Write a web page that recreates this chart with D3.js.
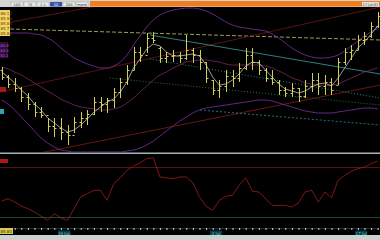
<!DOCTYPE html>
<html>
<head>
<meta charset="utf-8">
<script src="https://cdn.jsdelivr.net/npm/d3@7"></script>
<style>
  body { margin: 0; background: #000; }
  svg { display: block; }
  text { font-family: "DejaVu Sans", sans-serif; }
</style>
</head>
<body>
<svg id="chart" width="380" height="240"></svg>
<script>
// price bars, one per session
let opens  = [83.10,82.75,82.40,82.20,81.75,81.40,81.00,80.85,80.30,80.20,80.00,79.85,80.50,80.70,80.90,81.50,81.40,81.60,82.00,82.50,83.10,84.00,83.85,84.70,84.20,83.70,83.80,83.85,83.70,84.10,83.85,83.50,82.60,82.10,82.30,82.80,82.70,83.20,83.85,83.50,83.10,82.70,82.50,82.10,81.95,82.20,81.80,82.30,82.60,82.30,82.50,82.35,83.50,84.00,84.10,84.60,84.80,85.30]
let highs  = [83.25,82.85,82.70,82.25,81.95,81.50,81.25,80.70,80.70,80.70,80.35,80.75,81.00,81.10,81.75,81.75,81.70,82.20,82.70,83.35,84.25,84.25,84.95,85.00,84.25,84.00,84.10,84.00,84.85,84.20,84.10,83.50,82.60,82.60,83.10,83.10,83.45,84.20,84.20,83.60,83.20,83.10,82.60,82.25,82.45,82.20,82.60,82.95,82.95,82.85,82.70,83.70,84.20,84.35,84.85,85.00,85.50,86.00]
let lows   = [82.60,82.20,82.00,81.50,81.10,80.75,80.70,80.00,79.75,79.60,79.35,79.95,80.20,80.35,80.85,81.00,80.95,81.20,81.70,82.35,83.10,83.50,83.95,84.45,83.45,83.45,83.50,83.45,83.60,83.45,83.10,82.45,81.85,81.70,82.00,82.25,82.50,83.10,83.10,82.85,82.50,82.35,81.85,81.75,81.75,81.50,81.70,82.00,81.85,81.85,81.85,82.35,83.35,83.60,84.10,84.35,84.70,85.20]
let closes = [82.75,82.40,82.20,81.75,81.40,81.00,80.85,80.30,80.20,80.00,79.85,80.50,80.70,80.90,81.50,81.40,81.60,82.00,82.50,83.10,84.00,83.85,84.70,84.60,83.70,83.80,83.85,83.70,84.10,83.85,83.50,82.70,82.10,82.30,82.80,82.70,83.20,83.85,83.50,83.10,82.70,82.50,82.10,81.95,82.20,81.80,82.30,82.60,82.30,82.50,82.10,83.50,84.00,84.10,84.60,84.80,85.30,85.80]

// short moving average (white line)
let fastAvg = [83.00,82.75,82.45,82.10,81.80,81.40,81.10,80.70,80.45,80.20,80.00,80.10,80.35,80.65,81.00,81.25,81.50,81.65,82.00,82.50,83.20,83.65,84.15,84.40,84.30,84.00,83.80,83.80,83.85,83.90,83.80,83.35,82.75,82.35,82.40,82.60,82.90,83.30,83.50,83.45,83.10,82.75,82.40,82.15,82.05,81.95,82.05,82.25,82.40,82.45,82.30,82.70,83.20,83.70,84.20,84.50,84.90,85.30]

// bands
let bandUpper = [84.90,84.95,84.95,84.95,84.95,84.90,84.85,84.70,84.50,84.20,83.95,83.70,83.55,83.40,83.30,83.20,83.20,83.30,83.50,83.85,84.35,84.80,85.25,85.60,85.85,86.00,86.10,86.15,86.20,86.20,86.15,86.05,85.90,85.70,85.50,85.35,85.25,85.20,85.15,85.10,85.05,84.90,84.70,84.45,84.20,84.00,83.85,83.75,83.70,83.70,83.75,83.85,84.05,84.30,84.55,84.80,85.00,85.20]
let bandMiddle = [83.25,83.15,83.00,82.85,82.65,82.45,82.25,82.05,81.85,81.65,81.50,81.35,81.25,81.20,81.15,81.10,81.10,81.15,81.25,81.45,81.70,82.00,82.30,82.60,82.85,83.00,83.20,83.35,83.50,83.55,83.60,83.60,83.55,83.50,83.40,83.35,83.35,83.35,83.35,83.35,83.30,83.20,83.05,82.90,82.70,82.60,82.45,82.40,82.35,82.30,82.35,82.40,82.55,82.70,82.85,83.00,83.10,83.20]
let bandLower = [81.60,81.40,81.10,80.75,80.40,80.05,79.70,79.45,79.25,79.10,79.05,79.00,79.00,79.00,79.00,79.00,79.00,79.00,79.00,79.05,79.10,79.20,79.35,79.55,79.80,80.05,80.30,80.55,80.75,80.95,81.10,81.20,81.25,81.30,81.35,81.40,81.45,81.50,81.55,81.60,81.60,81.55,81.45,81.35,81.25,81.15,81.05,81.00,80.95,80.95,80.95,81.00,81.05,81.10,81.15,81.20,81.20,81.15]

// oscillator in lower pane
let oscValues = [39,42,38,33,30,26,21,16,24,19,16,30,44,48,52,52,40,60,67,76,81,85,90,91,68,67,66,68,68,61,44,33,28,40,45,46,58,67,51,50,42,34,34,34,32,37,50,52,38,50,43,64,70,75,78,80,84,87]
let oscLevels = [80, 20]

// drawn trend lines: [bar, price] pairs
let trendLines = [
  { name: 'dashYellow', from: [1.3, 85.15], to: [57.4, 84.60] },
  { name: 'redTop',     from: [-0.2, 85.40], to: [19.5, 86.60] },
  { name: 'redMid',     from: [-0.2, 82.00], to: [57.4, 86.25] },
  { name: 'redLow',     from: [5.8, 78.95], to: [57.4, 82.35] },
  { name: 'cyanSolid',  from: [22.5, 84.85], to: [57.4, 82.90] },
  { name: 'cyanDots',   from: [22.5, 83.65], to: [57.4, 81.70] },
  { name: 'greenDots',  from: [16.4, 82.70], to: [57.4, 81.35] },
  { name: 'cyanDash',   from: [30.1, 81.10], to: [57.4, 80.35] }
]

let priceInfo = ['86.12', '85.96', '85.84', '85.71', '85.80']
let dateLabels = [{ bar: 9.5, text: '19 Jun' }, { bar: 32.5, text: '2 Jul' }, { bar: 54.5, text: '17 Jul' }]
let toolButtons = ['100', '75', '1:1', '50', '200', 'more']

let svg = d3.select('#chart')

let xScale = d3.scaleLinear().domain([0, closes.length - 1]).range([1.5, 377.7])
let yScale = d3.scaleLinear().domain([79.0, 86.3]).range([152, 6])
let oscScale = d3.scaleLinear().domain([20, 80]).range([217, 167])

svg.append('rect').attr('width', 380).attr('height', 240).attr('fill', '#000')

svg.append('clipPath').attr('id', 'priceClip')
    .append('rect').attr('x', 0).attr('y', 7).attr('width', 380).attr('height', 145)

let pricePane = svg.append('g').attr('clip-path', 'url(#priceClip)')

let lineStyles = {
  dashYellow: { stroke: '#c8c070', dash: '4,2' },
  redTop:     { stroke: '#6e1818', dash: null },
  redMid:     { stroke: '#6e1818', dash: null },
  redLow:     { stroke: '#801a1a', dash: null },
  cyanSolid:  { stroke: '#3aa0a0', dash: null },
  cyanDots:   { stroke: '#3a9a9a', dash: '1,2' },
  greenDots:  { stroke: '#3a8a4c', dash: '1,2' },
  cyanDash:   { stroke: '#2f8a9a', dash: '2,2' }
}

pricePane.selectAll('line.trend')
    .data(trendLines)
    .enter()
    .append('line')
    .attr('class', 'trend')
    .attr('x1', (d) => xScale(d.from[0]))
    .attr('y1', (d) => yScale(d.from[1]))
    .attr('x2', (d) => xScale(d.to[0]))
    .attr('y2', (d) => yScale(d.to[1]))
    .attr('stroke', (d) => lineStyles[d.name].stroke)
    .attr('stroke-dasharray', (d) => lineStyles[d.name].dash)
    .attr('stroke-width', 0.8)

let bandLine = (values) => d3.line()
    .x((d, i) => xScale(i))
    .y((d) => yScale(d))
    .curve(d3.curveMonotoneX)(values)

pricePane.append('path').attr('d', bandLine(bandUpper))
    .attr('fill', 'none').attr('stroke', '#6c2c92').attr('stroke-width', 0.9)
pricePane.append('path').attr('d', bandLine(bandMiddle))
    .attr('fill', 'none').attr('stroke', '#7a2a64').attr('stroke-width', 0.8)
pricePane.append('path').attr('d', bandLine(bandLower))
    .attr('fill', 'none').attr('stroke', '#6c2c92').attr('stroke-width', 0.9)

// ohlc bars
let bars = pricePane.selectAll('g.bar')
    .data(closes)
    .enter()
    .append('g')
    .attr('class', 'bar')
    .attr('transform', (d, i) => 'translate(' + (Math.round(xScale(i)) + 0.5) + ',0)')

bars.append('line')
    .attr('y1', (d, i) => yScale(highs[i]))
    .attr('y2', (d, i) => yScale(lows[i]))
    .attr('stroke', '#d2cc58')
bars.append('line')
    .attr('x1', -2).attr('x2', 0)
    .attr('y1', (d, i) => Math.round(yScale(opens[i])) + 0.5)
    .attr('y2', (d, i) => Math.round(yScale(opens[i])) + 0.5)
    .attr('stroke', '#d2cc58')
bars.append('line')
    .attr('x1', 0).attr('x2', 2)
    .attr('y1', (d) => Math.round(yScale(d)) + 0.5)
    .attr('y2', (d) => Math.round(yScale(d)) + 0.5)
    .attr('stroke', '#d2cc58')

pricePane.append('path')
    .attr('d', d3.line().x((d, i) => xScale(i)).y((d) => yScale(d))(fastAvg))
    .attr('fill', 'none').attr('stroke', '#e0e0c8').attr('stroke-width', 0.7)

// left side labels
svg.append('rect').attr('x', 0).attr('y', 10).attr('width', 10).attr('height', 26).attr('fill', '#e8d860')
svg.selectAll('text.info')
    .data(priceInfo)
    .enter()
    .append('text')
    .attr('class', 'info')
    .attr('x', 0.5)
    .attr('y', (d, i) => 14.5 + i * 5)
    .attr('font-size', 4)
    .attr('fill', '#8a2a10')
    .text((d) => d)
svg.append('rect').attr('x', 0).attr('y', 42).attr('width', 8).attr('height', 16).attr('fill', '#301040')
svg.selectAll('text.band')
    .data(['85.9', '83.3', '81.1'])
    .enter()
    .append('text')
    .attr('class', 'band')
    .attr('x', 0.3)
    .attr('y', (d, i) => 46.5 + i * 5)
    .attr('font-size', 3.8)
    .attr('fill', '#c050d0')
    .text((d) => d)
svg.append('rect').attr('x', 0).attr('y', 87).attr('width', 6).attr('height', 5).attr('fill', '#a01c1c')
svg.append('rect').attr('x', 0).attr('y', 109).attr('width', 4).attr('height', 5).attr('fill', '#2aa6b0')

// pane separator
svg.append('rect').attr('x', 0).attr('y', 152.5).attr('width', 380).attr('height', 1.5).attr('fill', '#a8b4b4')

// oscillator pane
svg.selectAll('line.level')
    .data(oscLevels)
    .enter()
    .append('line')
    .attr('class', 'level')
    .attr('x1', 0).attr('x2', 380)
    .attr('y1', (d) => Math.round(oscScale(d)) + 0.5)
    .attr('y2', (d) => Math.round(oscScale(d)) + 0.5)
    .attr('stroke', (d) => d > 50 ? '#5a1010' : '#1c4a2a')

svg.append('path')
    .attr('d', d3.line().x((d, i) => xScale(i)).y((d) => oscScale(d))(oscValues))
    .attr('fill', 'none').attr('stroke', '#a01c1c').attr('stroke-width', 0.8)
svg.append('rect').attr('x', 0).attr('y', 159).attr('width', 8).attr('height', 4).attr('fill', '#b01818')

// time axis
let axis = d3.axisBottom(xScale)
    .tickValues(d3.range(0, closes.length))
    .tickSize(2)
    .tickFormat('')
let axisG = svg.append('g').attr('transform', 'translate(0,228)').call(axis)
axisG.select('.domain').attr('stroke', '#3a6a70').attr('stroke-dasharray', '1,1')
axisG.selectAll('.tick line').attr('stroke', '#c8d8d8')

svg.selectAll('rect.date')
    .data(dateLabels)
    .enter()
    .append('rect')
    .attr('class', 'date')
    .attr('x', (d) => xScale(d.bar) - 6)
    .attr('y', 230.5)
    .attr('width', 12)
    .attr('height', 4.5)
    .attr('fill', '#0a3a44')
svg.selectAll('text.date')
    .data(dateLabels)
    .enter()
    .append('text')
    .attr('class', 'date')
    .attr('x', (d) => xScale(d.bar))
    .attr('y', 234.5)
    .attr('text-anchor', 'middle')
    .attr('font-size', 4)
    .attr('fill', '#50c8d8')
    .text((d) => d.text)

svg.append('rect').attr('x', 0).attr('y', 228).attr('width', 13).attr('height', 6).attr('fill', '#d8cc50')
svg.append('text').attr('x', 0.5).attr('y', 232.8).attr('font-size', 4).attr('fill', '#402000').text('85.80')
svg.append('rect').attr('x', 0).attr('y', 235).attr('width', 380).attr('height', 5).attr('fill', '#cfcfcf')

// toolbar
svg.append('rect').attr('x', 0).attr('y', 0).attr('width', 380).attr('height', 7).attr('fill', '#d4d4d4')
svg.append('rect').attr('x', 90).attr('y', 1).attr('width', 290).attr('height', 5.5).attr('fill', '#f07c1c')
svg.selectAll('rect.btn')
    .data(toolButtons)
    .enter()
    .append('rect')
    .attr('class', 'btn')
    .attr('x', (d, i) => 11 + i * 13)
    .attr('y', 2)
    .attr('width', 12)
    .attr('height', 4.5)
    .attr('fill', (d) => d === '50' ? '#3050b0' : '#e8e8e8')
    .attr('stroke', '#808080')
    .attr('stroke-width', 0.3)
svg.selectAll('text.btn')
    .data(toolButtons)
    .enter()
    .append('text')
    .attr('class', 'btn')
    .attr('x', (d, i) => 17 + i * 13)
    .attr('y', 5.8)
    .attr('text-anchor', 'middle')
    .attr('font-size', 3.6)
    .attr('fill', (d) => d === '50' ? '#ffffff' : '#303030')
    .text((d) => d)
svg.append('rect').attr('x', 362).attr('y', 2).attr('width', 17).attr('height', 4.5).attr('fill', '#e0e0e0')
svg.append('text').attr('x', 370.5).attr('y', 5.6).attr('text-anchor', 'middle')
    .attr('font-size', 3.6).attr('fill', '#303030').text('17 Jul 07')
</script>
</body>
</html>
